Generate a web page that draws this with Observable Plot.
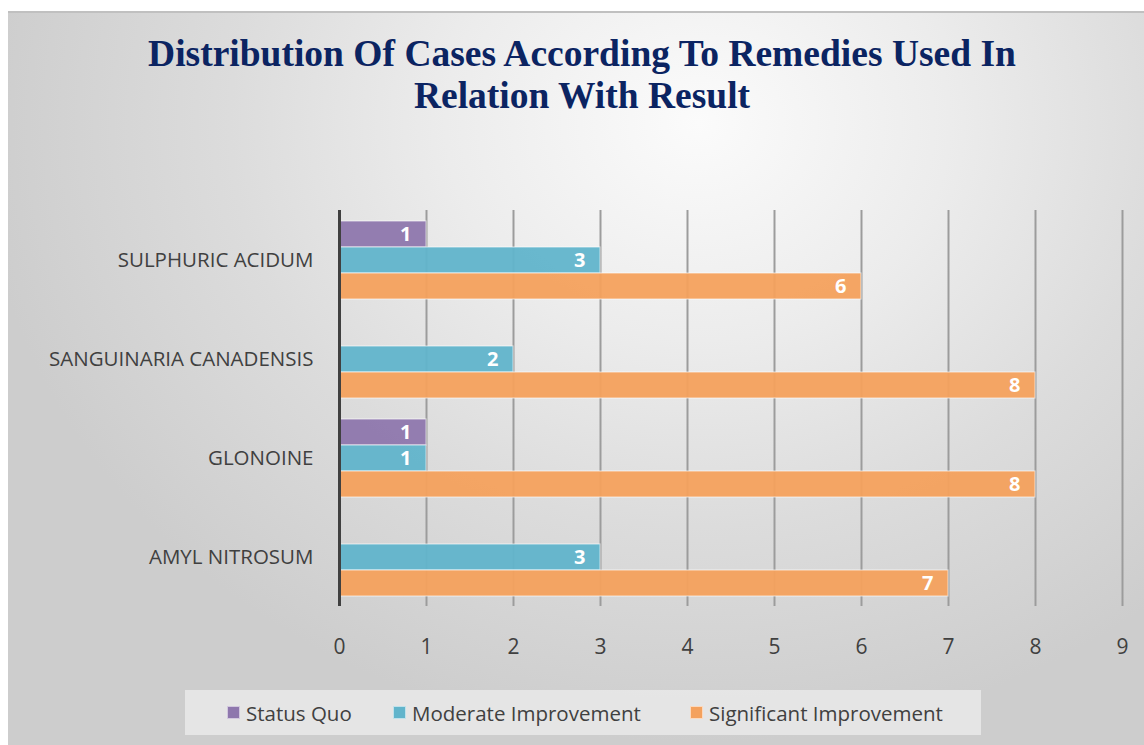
<!DOCTYPE html>
<html>
<head>
<meta charset="utf-8">
<script src="https://cdn.jsdelivr.net/npm/d3@7"></script>
<script src="https://cdn.jsdelivr.net/npm/@observablehq/plot@0.6"></script>
<style>
  html, body { margin: 0; padding: 0; background: #ffffff; }
  #page { position: relative; width: 1144px; height: 745px; overflow: hidden; }
  #frame {
    position: absolute; left: 8px; top: 11px; width: 1136px; height: 734px;
    background: radial-gradient(ellipse 720px 620px at 690px 110px, #fbfbfb 0%, #ececec 35%, #dcdcdc 65%, #cdcdcd 100%);
    border-top: 2px solid #c0c0c0; box-sizing: border-box;
  }
  #title {
    position: absolute; left: 0; top: 33px; width: 1164px; text-align: center;
    font-family: "Liberation Serif", "Times New Roman", serif; font-weight: bold;
    font-size: 37.5px; line-height: 42px; color: #0b2462;
  }
  #chart { position: absolute; left: 0; top: 0; }
  #legend {
    position: absolute; left: 185px; top: 690px; width: 796px; height: 45px;
    background: rgba(236,236,236,0.75);
    font-family: "Open Sans", sans-serif; font-size: 20.5px; color: #404040;
  }
  .item { position: absolute; top: 0; height: 45px; display: flex; align-items: center; }
  .sw { width: 13px; height: 13px; margin-right: 6px; box-sizing: border-box; border: 1px solid rgba(255,255,255,0.6); }
</style>
</head>
<body>
<div id="page">
  <div id="frame"></div>
  <div id="title">Distribution Of Cases According To Remedies Used In<br>Relation With Result</div>
  <div id="chart"></div>
  <div id="legend"></div>
</div>
<script>
const categories = ["SULPHURIC ACIDUM", "SANGUINARIA CANADENSIS", "GLONOINE", "AMYL NITROSUM"];
const series = ["Status Quo", "Moderate Improvement", "Significant Improvement"];
const colors = ["#8e77ad", "#61b4cb", "#f4a15d"];
// values per category, in series order (null = no bar)
const statusQuo = [1, null, 1, null];
const moderate = [3, 2, 1, 3];
const significant = [6, 8, 8, 7];
const xTicks = [0, 1, 2, 3, 4, 5, 6, 7, 8, 9];

const seriesValues = [statusQuo, moderate, significant];
const data = [];
categories.forEach((c, i) => {
  series.forEach((s, j) => {
    const v = seriesValues[j][i];
    if (v != null) data.push({category: c, series: s, value: v});
  });
});

const chart = Plot.plot({
  width: 1144,
  height: 680,
  marginLeft: 339,
  marginRight: 22,
  marginTop: 209,
  marginBottom: 73,
  style: {background: "transparent", fontFamily: "Open Sans, sans-serif", fontSize: "20px", color: "#404040", overflow: "visible"},
  x: {domain: [0, 9], label: null},
  y: {domain: series, paddingInner: 0, paddingOuter: 0.375, axis: null},
  fy: {domain: categories, padding: 0, label: null},
  color: {domain: series, range: colors},
  marks: [
    Plot.ruleX(xTicks.slice(1), {stroke: "#9c9c9c", strokeWidth: 2}),
    Plot.barX(data, {
      x: "value", y: "series", fy: "category", fill: "series",
      fillOpacity: 0.95, stroke: "#ffffff", strokeOpacity: 0.55, strokeWidth: 1.2
    }),
    Plot.text(data, {
      x: "value", y: "series", fy: "category", text: "value",
      textAnchor: "end", dx: -15, fill: "#ffffff", fontWeight: "bold", fontSize: 20
    }),
    Plot.ruleX([0], {stroke: "#404040", strokeWidth: 3}),
    Plot.axisX({ticks: xTicks, tickSize: 0, tickPadding: 33, fontSize: 21, fill: "#404040", label: null}),
    Plot.axisFy({anchor: "left", tickSize: 0, tickPadding: 26, fontSize: 20.5, fill: "#404040", label: null})
  ]
});
document.getElementById("chart").appendChild(chart);

// legend
const legend = document.getElementById("legend");
const lefts = [42, 208, 505];
series.forEach((s, j) => {
  const it = document.createElement("div");
  it.className = "item";
  it.style.left = lefts[j] + "px";
  const sw = document.createElement("div");
  sw.className = "sw";
  sw.style.background = colors[j];
  const t = document.createElement("span");
  t.textContent = s;
  it.appendChild(sw); it.appendChild(t);
  legend.appendChild(it);
});
</script>
</body>
</html>
